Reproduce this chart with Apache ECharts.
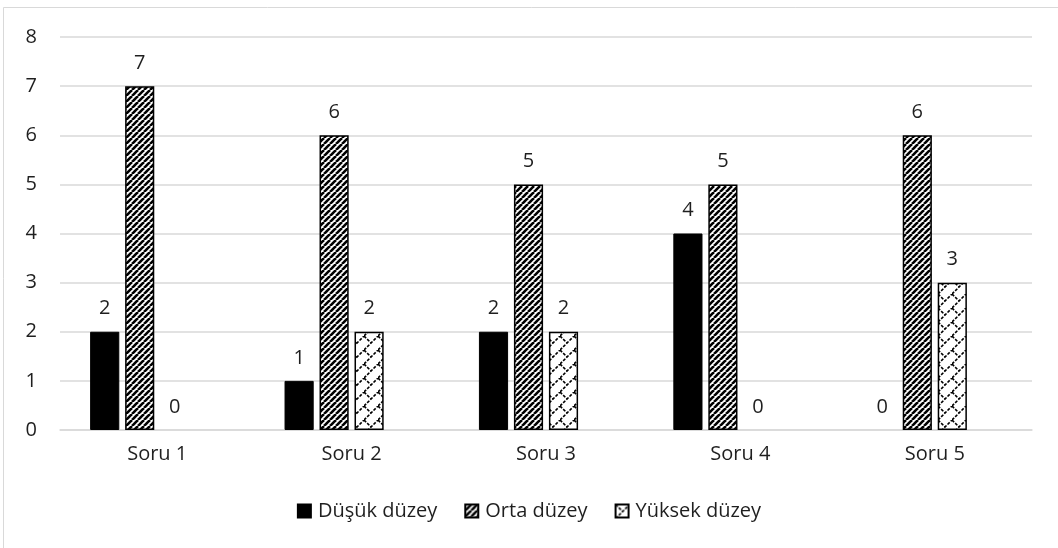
<!DOCTYPE html>
<html>
<head>
<meta charset="utf-8">
<script src="https://cdn.jsdelivr.net/npm/echarts@6/dist/echarts.min.js"></script>
<style>
  html, body { margin: 0; padding: 0; background: #fff; }
  #chart { width: 1058px; height: 548px; }
</style>
</head>
<body>
<div id="chart"></div>
<script>
const categories = ['Soru 1', 'Soru 2', 'Soru 3', 'Soru 4', 'Soru 5']
const dusuk = [2, 1, 2, 4, 0]
const orta = [7, 6, 5, 5, 6]
const yuksek = [0, 2, 2, 0, 3]
const yTicks = [0, 1, 2, 3, 4, 5, 6, 7, 8]

const textColor = '#1f1f1f'
const font = 'Open Sans'

// çapraz çizgili desen
function stripePattern() {
  const s = 6
  const c = document.createElement('canvas')
  c.width = s
  c.height = s
  const ctx = c.getContext('2d')
  ctx.fillStyle = '#fff'
  ctx.fillRect(0, 0, s, s)
  ctx.strokeStyle = '#000'
  ctx.lineWidth = 2.6
  for (let k = -1; k <= 1; k++) {
    ctx.beginPath()
    ctx.moveTo(k * s, s)
    ctx.lineTo(k * s + s, 0)
    ctx.stroke()
  }
  return { image: c, repeat: 'repeat' }
}

// kesikli kafes desen
function latticePattern() {
  const s = 14
  const c = document.createElement('canvas')
  c.width = s
  c.height = s
  const ctx = c.getContext('2d')
  ctx.fillStyle = '#fff'
  ctx.fillRect(0, 0, s, s)
  ctx.strokeStyle = '#000'
  ctx.lineWidth = 1.6
  ctx.setLineDash([3, 1.5])
  ctx.beginPath()
  ctx.moveTo(0, s)
  ctx.lineTo(s, 0)
  ctx.stroke()
  ctx.beginPath()
  ctx.moveTo(0, 0)
  ctx.lineTo(s / 2, s / 2)
  ctx.stroke()
  return { image: c, repeat: 'repeat' }
}

// sıfır değerli çubuklarda kenarlık gösterme
function hideZero(arr) {
  return arr.map(v => (v === 0 ? { value: v, itemStyle: { borderWidth: 0, color: 'transparent' } } : v))
}

const labelOpt = {
  show: true,
  position: 'top',
  distance: 13,
  color: textColor,
  fontFamily: font,
  fontSize: 20
}

const chart = echarts.init(document.getElementById('chart'))

const option = {
  animation: false,
  backgroundColor: '#fff',
  textStyle: { fontFamily: font },
  graphic: [
    {
      type: 'rect',
      shape: { x: 3.5, y: 7.5, width: 1200, height: 700 },
      style: { fill: 'none', stroke: '#d9d9d9', lineWidth: 1 },
      silent: true,
      z: -1
    }
  ],
  grid: {
    left: 60,
    right: 26,
    top: 37,
    bottom: 118
  },
  legend: {
    data: ['Düşük düzey', 'Orta düzey', 'Yüksek düzey'],
    bottom: 22,
    left: 'center',
    icon: 'rect',
    itemWidth: 13,
    itemHeight: 13,
    itemGap: 27,
    textStyle: {
      color: textColor,
      fontFamily: font,
      fontSize: 20,
      padding: [0, 0, 0, 2]
    }
  },
  xAxis: {
    type: 'category',
    data: categories,
    axisLine: { lineStyle: { color: '#d9d9d9', width: 1.5 } },
    axisTick: { show: false },
    axisLabel: {
      color: textColor,
      fontFamily: font,
      fontSize: 20,
      margin: 14
    }
  },
  yAxis: {
    type: 'value',
    min: yTicks[0],
    max: yTicks[yTicks.length - 1],
    interval: 1,
    axisLine: { show: false },
    axisTick: { show: false },
    axisLabel: {
      color: textColor,
      fontFamily: font,
      fontSize: 20,
      margin: 23
    },
    splitLine: { lineStyle: { color: '#d9d9d9', width: 1.5 } }
  },
  series: [
    {
      name: 'Düşük düzey',
      type: 'bar',
      data: hideZero(dusuk),
      barGap: '20%',
      barCategoryGap: '31%',
      itemStyle: { color: '#000', borderColor: '#000', borderWidth: 1 },
      label: labelOpt
    },
    {
      name: 'Orta düzey',
      type: 'bar',
      data: hideZero(orta),
      itemStyle: { color: stripePattern(), borderColor: '#000', borderWidth: 1.5 },
      label: labelOpt
    },
    {
      name: 'Yüksek düzey',
      type: 'bar',
      data: hideZero(yuksek),
      itemStyle: { color: latticePattern(), borderColor: '#000', borderWidth: 1.5 },
      label: labelOpt
    },
    {
      // boş seri (grafikte yer tutucu)
      name: 'bos',
      type: 'bar',
      data: []
    }
  ]
}

chart.setOption(option)
</script>
</body>
</html>
